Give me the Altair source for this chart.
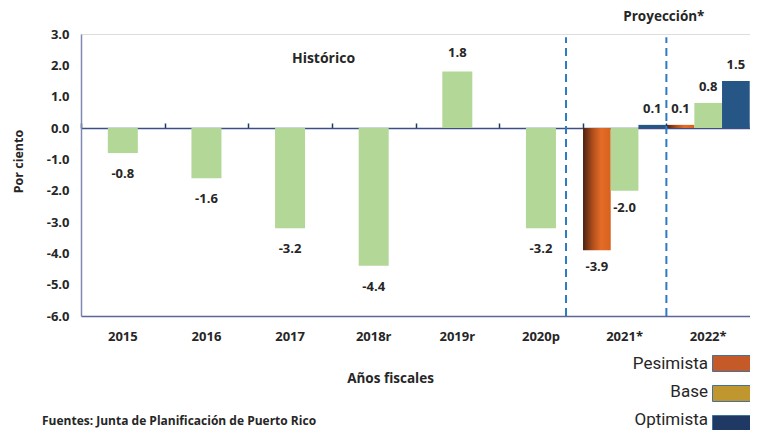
import altair as alt
import pandas as pd

# ---------------- data ----------------
years = ["2015", "2016", "2017", "2018r", "2019r", "2020p", "2021*", "2022*"]
hist_years = ["2015", "2016", "2017", "2018r", "2019r", "2020p"]
hist_values = [-0.8, -1.6, -3.2, -4.4, 1.8, -3.2]
proj_years = ["2021*", "2021*", "2021*", "2022*", "2022*", "2022*"]
proj_scenarios = ["Pesimista", "Base", "Optimista", "Pesimista", "Base", "Optimista"]
proj_values = [-3.9, -2.0, 0.1, 0.1, 0.8, 1.5]
scenarios = ["Pesimista", "Base", "Optimista"]
legend_colors = ["#c55a28", "#c0962f", "#1f3864"]
y_ticks = [3, 2, 1, 0, -1, -2, -3, -4, -5, -6]
divider_years = ["2020p", "2022*"]
annot_texts = ["Histórico", "Proyección*"]
annot_years = ["2017", "2021*"]
annot_values = [2.2, 3.55]
footnote = "Fuentes: Junta de Planificación de Puerto Rico"

GREEN = "#b2d797"
BLUE = "#265686"
TXT = "#262626"
FONT = "Open Sans"

hist_df = pd.DataFrame({"year": hist_years, "value": hist_values})
hist_df["label"] = [f"{v:.1f}" for v in hist_values]
proj_df = pd.DataFrame({"year": proj_years, "scenario": proj_scenarios, "value": proj_values})
proj_df["label"] = [f"{v:.1f}" for v in proj_values]
lbl_keys = [f"{i}|{s}" for i, s in enumerate(scenarios)]
proj_df["lbl"] = proj_df["scenario"].map(dict(zip(scenarios, lbl_keys)))

W, H = 669, 282
XS = alt.Scale(domain=years, paddingInner=0, paddingOuter=0)
YS = alt.Scale(domain=[min(y_ticks), max(y_ticks)], nice=False)
XO = alt.XOffset("scenario:N", scale=alt.Scale(domain=scenarios, paddingInner=0, paddingOuter=0.01))

y_axis = alt.Axis(
    values=y_ticks, ticks=False, grid=False, domain=True, domainColor="#7f87b6", domainWidth=1.5,
    labelExpr="(datum.value < 0 ? '-' : '') + format(abs(datum.value), '.1f')",
    labelFont=FONT, labelFontWeight="bold", labelFontSize=13, labelColor=TXT, labelPadding=12,
    title="Por ciento", titleFont=FONT, titleFontWeight="bold", titleFontSize=12.5, titleColor=TXT,
    titleX=-63, titleY=127, titleAngle=-90, titleAlign="center", titleBaseline="middle",
)
x_axis_bottom = alt.Axis(
    orient="bottom", ticks=False, grid=False, domain=True, domainColor="#5b6797", domainWidth=1.5,
    labelAngle=0, labelFont=FONT, labelFontWeight="bold", labelFontSize=13, labelColor=TXT, labelPadding=14,
    title="Años fiscales", titleFont=FONT, titleFontWeight="bold", titleFontSize=13.5, titleColor=TXT,
    titleX=309, titleY=62, titleAlign="center", titleBaseline="middle",
)
x_axis_zero = alt.Axis(
    orient="top", offset=-H * max(y_ticks) / (max(y_ticks) - min(y_ticks)),
    labels=False, title=None, grid=False, domain=True, domainColor="#3b4f85", domainWidth=1.5,
    ticks=True, tickBand="extent", tickSize=5, tickColor="#1f3864", tickWidth=1.5,
)

grad = alt.Gradient(
    gradient="linear", x1=0, x2=1, y1=0, y2=0,
    stops=[
        alt.GradientStop(color="#4a2212", offset=0),
        alt.GradientStop(color="#b04e1c", offset=0.35),
        alt.GradientStop(color="#e46c26", offset=0.65),
        alt.GradientStop(color="#d6621f", offset=1),
    ],
)

# historical bars (carry bottom axis + y axis)
hist_bars = alt.Chart(hist_df).mark_bar(size=30, color=GREEN).encode(
    x=alt.X("year:N", scale=XS, axis=x_axis_bottom),
    y=alt.Y("value:Q", scale=YS, axis=y_axis),
)
hist_lab_neg = alt.Chart(hist_df).transform_filter("datum.value < 0").mark_text(
    font=FONT, fontWeight="bold", fontSize=13, color=TXT, baseline="middle", dy=21
).encode(
    x=alt.X("year:N", scale=XS, axis=None),
    y=alt.Y("value:Q", scale=YS, axis=None),
    text="label:N",
)
hist_lab_pos = alt.Chart(hist_df).transform_filter("datum.value > 0").mark_text(
    font=FONT, fontWeight="bold", fontSize=13, color=TXT, baseline="middle", dy=-19
).encode(
    x=alt.X("year:N", scale=XS, axis=None),
    y=alt.Y("value:Q", scale=YS, axis=None),
    text="label:N",
)

# projection bars
pes_bars = alt.Chart(proj_df).transform_filter("datum.scenario == 'Pesimista'").mark_bar(color=grad).encode(
    x=alt.X("year:N", scale=XS, axis=None),
    xOffset=XO,
    y=alt.Y("value:Q", scale=YS, axis=None),
)
other_bars = alt.Chart(proj_df).transform_filter("datum.scenario != 'Pesimista'").mark_bar().encode(
    x=alt.X("year:N", scale=XS, axis=None),
    xOffset=XO,
    y=alt.Y("value:Q", scale=YS, axis=None),
    color=alt.condition("datum.scenario == 'Base'", alt.value(GREEN), alt.value(BLUE)),
)
proj_lab_neg = alt.Chart(proj_df).transform_filter("datum.value < 0").mark_text(
    font=FONT, fontWeight="bold", fontSize=13, color=TXT, baseline="middle", dy=17
).encode(
    x=alt.X("year:N", scale=XS, axis=None),
    xOffset=XO,
    y=alt.Y("value:Q", scale=YS, axis=None),
    text="label:N",
)
proj_lab_pos = alt.Chart(proj_df).transform_filter("datum.value > 0").mark_text(
    font=FONT, fontWeight="bold", fontSize=13, color=TXT, baseline="middle", dy=-16
).encode(
    x=alt.X("year:N", scale=XS, axis=None),
    xOffset=XO,
    y=alt.Y("value:Q", scale=YS, axis=None),
    text="label:N",
)

# dashed dividers
div_df = pd.DataFrame({"year": divider_years, "y": [min(y_ticks)] * 2, "y2": [2.9] * 2})
def divider(i, bp):
    return alt.Chart(div_df.iloc[[i]]).mark_rule(color="#2e7bc0", strokeDash=[8, 5], strokeWidth=2).encode(
        x=alt.X("year:N", scale=XS, axis=None, bandPosition=bp),
        y=alt.Y("y:Q", scale=YS, axis=None),
        y2="y2:Q",
    )
div1 = divider(0, 0.8)
div2 = divider(1, 0.0)

# annotations
ann_df = pd.DataFrame({"text": annot_texts, "year": annot_years, "value": annot_values})
def annot(i, bp, fs):
    return alt.Chart(ann_df.iloc[[i]]).mark_text(
        font=FONT, fontWeight="bold", fontSize=fs, color=TXT, baseline="middle"
    ).encode(
        x=alt.X("year:N", scale=XS, axis=None, bandPosition=bp),
        y=alt.Y("value:Q", scale=YS, axis=None),
        text="text:N",
    )
ann1 = annot(0, 0.9, 14)
ann2 = annot(1, 0.97, 13.5)

# footnote (source line under the chart)
foot = alt.Chart(pd.DataFrame({"t": [footnote]})).mark_text(
    font=FONT, fontWeight="bold", fontSize=12, color=TXT, align="left", baseline="middle"
).encode(x=alt.value(-39), y=alt.value(387), text="t:N")

# legend (boxes from colour, texts from a second legend) + zero axis carrier
LEG_Y = 310
ROW_PAD = -15
SYM = "M-1,-0.42H1V0.42H-1Z"
legend_layer = alt.Chart(proj_df).mark_point(filled=True, opacity=0, size=1).encode(
    x=alt.X("year:N", scale=XS, axis=x_axis_zero),
    y=alt.Y("value:Q", scale=YS, axis=None),
    color=alt.Color(
        "scenario:N",
        scale=alt.Scale(domain=scenarios, range=legend_colors),
        legend=alt.Legend(
            orient="none", legendX=631, legendY=LEG_Y, title=None, padding=0,
            symbolType=SYM, symbolSize=1444, symbolOpacity=1,
            symbolStrokeColor="#41719c", symbolStrokeWidth=1, symbolOffset=0,
            labelExpr="''", rowPadding=ROW_PAD,
        ),
    ),
    shape=alt.Shape(
        "lbl:N",
        scale=alt.Scale(domain=lbl_keys, range=[SYM] * len(lbl_keys)),
        legend=alt.Legend(
            orient="none", legendX=587, legendY=LEG_Y, title=None, padding=0,
            symbolType=SYM, symbolSize=1444, symbolOpacity=0, symbolOffset=0,
            symbolFillColor="transparent", symbolStrokeColor="transparent",
            labelExpr="split(datum.label, '|')[1]",
            labelAlign="right", labelOffset=0, labelFont="Roboto", labelFontSize=17,
            labelColor=TXT, labelBaseline="middle", rowPadding=ROW_PAD,
        ),
    ),
)

chart = alt.layer(
    hist_bars, pes_bars, other_bars, div1, div2,
    hist_lab_neg, hist_lab_pos, proj_lab_neg, proj_lab_pos, ann1, ann2, foot, legend_layer,
).resolve_axis(x="independent", y="independent").properties(
    width=W, height=H,
    autosize=alt.AutoSizeParams(type="none"),
    padding={"left": 73, "top": 26, "right": 0, "bottom": 114},
).configure_view(stroke=None).configure(background="white")

chart.save("out.html", embed_options={"renderer": "svg", "actions": False})
